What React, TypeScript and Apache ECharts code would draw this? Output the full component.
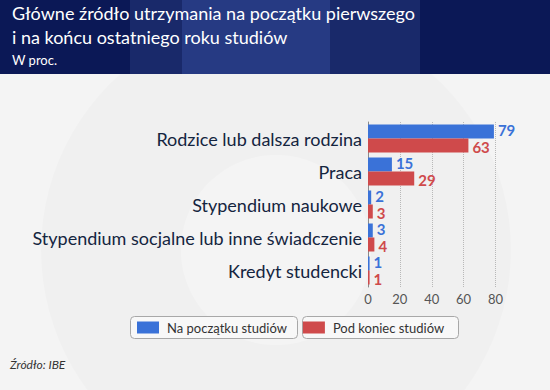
import React, { useEffect, useRef } from "react";
import * as echarts from "echarts";

const categories = [
  "Rodzice lub dalsza rodzina",
  "Praca",
  "Stypendium naukowe",
  "Stypendium socjalne lub inne świadczenie",
  "Kredyt studencki",
];
const startValues = [79, 15, 2, 3, 1];
const endValues = [63, 29, 3, 4, 1];
const seriesNames = ["Na początku studiów", "Pod koniec studiów"];
const titleLines = [
  "Główne źródło utrzymania na początku pierwszego",
  "i na końcu ostatniego roku studiów",
];
const subtitle = "W proc.";
const sourceText = "Źródło: IBE";

const BLUE = "#3a72d8";
const RED = "#cf4a4b";
const FONT = "Lato, 'Noto Sans', sans-serif";

export default function App() {
  const ref = useRef<HTMLDivElement>(null);
  useEffect(() => {
    if (!ref.current) return;
    const chart = echarts.init(ref.current, null, { renderer: "svg" });
    chart.setOption({
      animation: false,
      backgroundColor: "#f4f4f4",
      textStyle: { fontFamily: FONT },
      graphic: [
        {
          type: "ring",
          z: -10,
          silent: true,
          shape: { cx: 276, cy: 250, r: 235, r0: 95 },
          style: { fill: "rgba(0,0,0,0.015)" },
        },
        { type: "rect", z: -5, shape: { x: 0, y: 0, width: 550, height: 74 }, style: { fill: "#0b1856" } },
        { type: "rect", z: -4, shape: { x: 130, y: 0, width: 52, height: 74 }, style: { fill: "#19296a" } },
        { type: "rect", z: -4, shape: { x: 330, y: 0, width: 90, height: 74 }, style: { fill: "#19296a" } },
        { type: "rect", z: -4, shape: { x: 182, y: 0, width: 148, height: 74 }, style: { fill: "#263a83" } },
        {
          type: "text",
          left: 12,
          top: 4,
          style: { text: titleLines[0], fill: "#ffffff", font: `18px ${FONT}` },
        },
        {
          type: "text",
          left: 12,
          top: 28,
          style: { text: titleLines[1], fill: "#ffffff", font: `18px ${FONT}` },
        },
        {
          type: "text",
          left: 12,
          top: 53,
          style: { text: subtitle, fill: "#ffffff", font: `13px ${FONT}` },
        },
        {
          type: "rect",
          z: -1,
          shape: { x: 130.5, y: 316.5, width: 167, height: 22, r: 4 },
          style: { fill: "#f8f8f8", stroke: "#a8a8a8", lineWidth: 1 },
        },
        {
          type: "rect",
          z: -1,
          shape: { x: 302.5, y: 316.5, width: 156, height: 22, r: 4 },
          style: { fill: "#f8f8f8", stroke: "#a8a8a8", lineWidth: 1 },
        },
        {
          type: "text",
          left: 10,
          top: 358,
          style: { text: sourceText, fill: "#333333", font: `italic 12px ${FONT}` },
        },
      ],
      legend: {
        left: 132,
        top: 316,
        itemWidth: 22,
        itemHeight: 12,
        itemGap: 16,
        icon: "rect",
        data: seriesNames,
        textStyle: { fontSize: 13, color: "#333333", fontFamily: FONT, padding: [0, 0, 0, 3] },
      },
      grid: { left: 368, right: 54.5, top: 122, bottom: 103, containLabel: false },
      xAxis: {
        type: "value",
        min: 0,
        max: 80,
        interval: 20,
        axisLine: { show: false },
        axisTick: { show: false },
        axisLabel: { color: "#555555", fontSize: 13, margin: 5, fontFamily: FONT },
        splitLine: { show: true, lineStyle: { type: "dotted", color: "#b8b8b8" } },
      },
      yAxis: {
        type: "category",
        data: categories,
        inverse: true,
        axisLine: { show: true, lineStyle: { color: "#8a8a8a" } },
        axisTick: { show: false },
        axisLabel: { color: "#14253f", fontSize: 18, margin: 6, fontFamily: FONT },
      },
      series: [
        {
          name: seriesNames[0],
          type: "bar",
          data: startValues,
          barWidth: 14,
          barGap: "0%",
          itemStyle: { color: BLUE },
          label: {
            show: true,
            position: "right",
            distance: 4,
            offset: [0, -1.25],
            color: BLUE,
            fontSize: 15,
            lineHeight: 15,
            fontWeight: "bold",
            fontFamily: FONT,
          },
        },
        {
          name: seriesNames[1],
          type: "bar",
          data: endValues,
          barWidth: 14,
          barGap: "0%",
          itemStyle: { color: RED },
          label: {
            show: true,
            position: "right",
            distance: 4,
            offset: [0, 1.25],
            color: RED,
            fontSize: 15,
            lineHeight: 15,
            fontWeight: "bold",
            fontFamily: FONT,
          },
        },
      ],
    });
    return () => chart.dispose();
  }, []);
  return <div ref={ref} style={{ width: 550, height: 390, position: "fixed", left: 0, top: 0 }} />;
}
